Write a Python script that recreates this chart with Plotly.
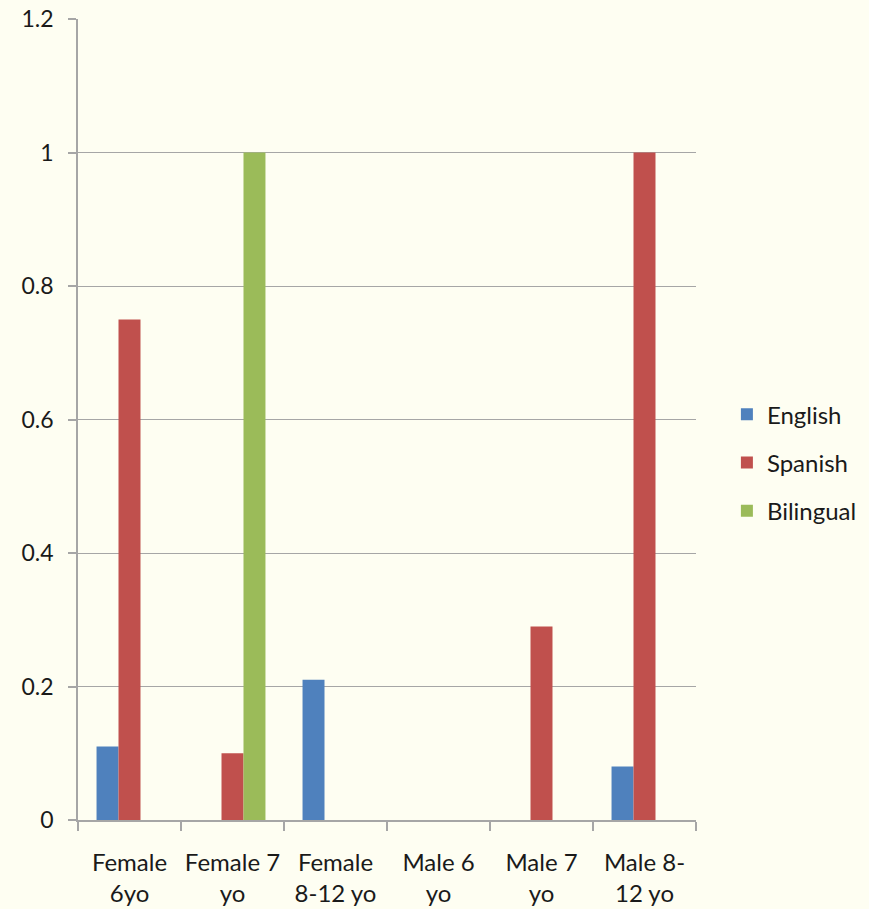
import plotly.graph_objects as go

categories = ["Female<br>6yo", "Female 7<br>yo", "Female<br>8-12 yo", "Male 6<br>yo", "Male 7<br>yo", "Male 8-<br>12 yo"]
english = [0.11, None, 0.21, None, None, 0.08]
spanish = [0.75, 0.10, None, None, 0.29, 1.0]
bilingual = [None, 1.0, None, None, None, None]
ytick_vals = [0, 0.2, 0.4, 0.6, 0.8, 1.0, 1.2]
ytick_text = ["0", "0.2", "0.4", "0.6", "0.8", "1", "1.2"]

BG = "#fefef2"
GRID = "#a6a6a6"
FONT = dict(family="Lato, Calibri, sans-serif", size=24, color="#1a1a1a")
YFONT = dict(family="Lato, Calibri, sans-serif", size=23, color="#1a1a1a")

fig = go.Figure()
for name, vals, color in [("English", english, "#4f81bd"),
                          ("Spanish", spanish, "#c0504d"),
                          ("Bilingual", bilingual, "#9bbb59")]:
    fig.add_trace(go.Bar(x=categories, y=vals, name=name, legendgroup=name,
                         marker=dict(color=color, line=dict(width=0))))

fig.update_layout(
    width=869, height=909,
    margin=dict(l=78, r=173, t=19, b=89, autoexpand=False),
    paper_bgcolor=BG, plot_bgcolor=BG,
    font=FONT,
    barmode="group", bargap=0.36, bargroupgap=0,
    legend=dict(x=1.05, xanchor="left", y=0.446, yanchor="middle",
                traceorder="grouped", tracegroupgap=14,
                font=FONT, bgcolor="rgba(0,0,0,0)"),
    showlegend=True,
)
fig.update_xaxes(showline=True, linecolor=GRID, linewidth=1.5, automargin=False,
                 tickangle=0,
                 ticks="outside", tickson="boundaries", ticklen=9, tickcolor=GRID, tickwidth=1.5,
                 ticklabelstandoff=20,
                 showgrid=False, tickfont=FONT)
fig.update_yaxes(range=[0, 1.2], tickvals=ytick_vals, ticktext=ytick_text,
                 showline=True, linecolor=GRID, linewidth=1.5, automargin=False,
                 ticks="outside", ticklen=8, tickcolor=GRID, tickwidth=1.5,
                 ticklabelstandoff=10,
                 showgrid=True, gridcolor=GRID, gridwidth=1.2,
                 zeroline=False, tickfont=YFONT)

fig.write_html("out.html", config={"displayModeBar": False},
               post_script="document.body.style.margin='0';document.body.style.background='%s';" % BG)
